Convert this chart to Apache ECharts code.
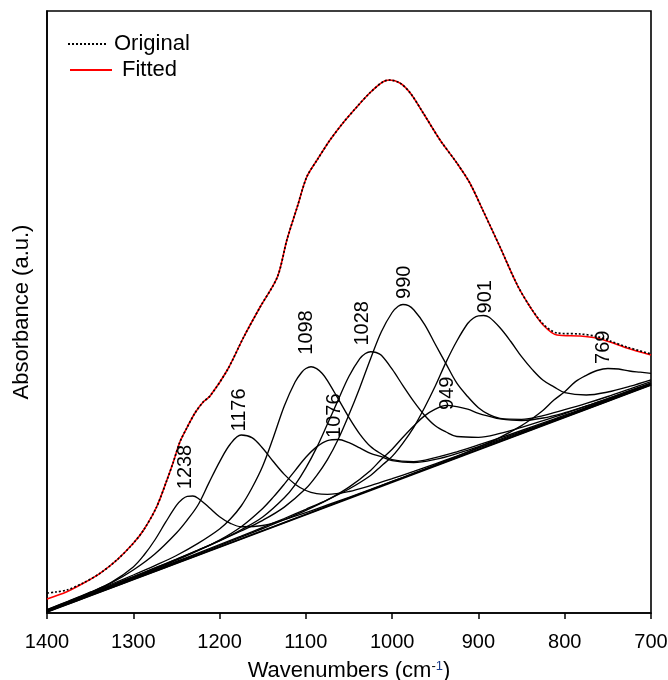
<!DOCTYPE html>
<html><head><meta charset="utf-8">
<script src="https://cdn.jsdelivr.net/npm/echarts@6/dist/echarts.min.js"></script>
<style>html,body{margin:0;padding:0;background:#fff}#c{width:668px;height:680px}</style>
</head><body><div id="c"></div>
<script>
// Measured spectrum (wavenumber cm-1, absorbance a.u.)
const fitted = [[1400,14],[1377,21.3],[1358,29.7],[1338.6,39.7],[1319,53],[1300,69.7],[1288,83],[1273,106],[1261,133],[1254,150],[1246,171],[1238,185],[1228.5,200],[1219,211],[1211,217],[1191,243],[1172,276],[1153,306],[1133,336],[1122,373],[1110,406],[1099,436],[1087,453],[1072,473],[1057,490],[1041,506],[1026,520],[1011,531],[1003,533],[991,530],[979,520],[964,500],[944.5,473],[925,450],[910,430],[895,403],[875,366],[855,328],[840,306],[825,288],[809,278],[782,277],[763,275],[747.5,271],[728,265],[700,258]];
const original = [[1400,20],[1390,21],[1377,23],[1358,30],[1338.6,39.7],[1319,53],[1300,69.7],[1288,83],[1273,106],[1261,133],[1254,150],[1246,171],[1238,185],[1228.5,200],[1219,211],[1211,217],[1191,243],[1172,276],[1153,306],[1133,336],[1122,373],[1110,406],[1099,436],[1087,453],[1072,473],[1057,490],[1041,506],[1026,520],[1011,531],[1003,533],[991,530],[979,520],[964,500],[944.5,473],[925,450],[910,430],[895,403],[875,366],[855,328],[840,306],[825,289],[809,280],[782,279],[763,276.5],[747.5,272],[728,266],[700,259]];
const baseline = [[1400,1],[700,228]];
const band1238 = [[1400,2.6],[1375,11.2],[1350,20.4],[1325,30.8],[1300,46.1],[1287.5,58],[1275,73],[1262.5,90.8],[1250,107.6],[1243,114],[1237.5,116.7],[1231,117],[1225,114.8],[1212.5,105.8],[1200,96.3],[1187.5,89.7],[1175,86.3],[1150,87.5],[1125,93.4],[1100,100.4],[1075,108],[1050,115.7],[1025,123.5],[1000,131.5],[975,139.4],[950,147.4],[925,155.5],[900,163.6],[875,171.6],[850,179.7],[825,187.8],[800,195.8],[775,203.9],[750,212],[725,220.1],[700,228.2]];
const band1176 = [[1400,3.3],[1375,11.9],[1350,20.8],[1325,30.3],[1300,43],[1275,59],[1250,80],[1237.5,93],[1225,108],[1212.5,129.9],[1200,151.2],[1187.5,169],[1175,178],[1162.5,175.4],[1150,164.8],[1137.5,151.2],[1125,138.6],[1112.5,128.8],[1100,122.5],[1087.5,119.3],[1075,118.6],[1050,121.5],[1025,127.4],[1000,134.3],[975,141.6],[950,149.2],[925,156.9],[900,164.8],[875,172.7],[850,180.5],[825,188.5],[800,196.4],[775,204.5],[750,212.5],[725,220.5],[700,228.5]];
const band1098 = [[1400,3.2],[1375,11.6],[1350,20.1],[1325,29],[1300,38],[1275,47.4],[1250,57.5],[1225,69.6],[1200,84],[1187.5,94],[1175,107],[1162.5,125],[1150,147],[1137.5,176],[1125,207],[1112.5,231],[1105,240.5],[1100,244.5],[1094,246.3],[1087.5,244.4],[1081,239.5],[1075,232.4],[1062.5,214.1],[1050,195.4],[1037.5,178.9],[1025,166.4],[1012.5,159],[1000,153.3],[975,151.4],[950,155.3],[925,161.2],[900,168.1],[875,175.1],[850,182.5],[825,190.1],[800,197.8],[775,205.6],[750,213.4],[725,221.3],[700,229.2]];
const band1076 = [[1400,2],[1375,10.3],[1350,18.6],[1325,27],[1300,35.4],[1275,44],[1250,52.9],[1225,62.4],[1200,72.9],[1175,86.3],[1150,104.6],[1137.5,116.1],[1125,128.9],[1112.5,142.4],[1100,155.7],[1087.5,166.1],[1075,172.4],[1062.5,173.5],[1050,170.3],[1037.5,165.1],[1025,159.6],[1012.5,156.3],[1000,152.4],[975,150.5],[950,153.6],[925,159.4],[900,166.4],[875,173.7],[850,181.4],[825,189.2],[800,196.9],[775,204.8],[750,212.8],[725,220.8],[700,228.8]];
const band1028 = [[1400,2.5],[1375,10.9],[1350,19.3],[1325,27.7],[1300,36.1],[1275,44.8],[1250,53.6],[1225,62.8],[1200,72.4],[1175,83.2],[1150,96],[1125,115.2],[1112.5,128.2],[1100,145.1],[1087.5,165.4],[1075,189],[1062.5,213.1],[1050,236.7],[1037.5,254.3],[1031,259.5],[1025,261.3],[1018.5,260.5],[1012.5,257.7],[1000,243.8],[987.5,227.4],[975,211.6],[962.5,197.8],[950,187.2],[937.5,181],[925,176.5],[900,175.7],[875,179.6],[850,185.7],[825,192.4],[800,199.4],[775,206.9],[750,214.4],[725,222.3],[700,229.9]];
const band990 = [[1400,2.7],[1375,11.2],[1350,19.5],[1325,27.9],[1300,36.4],[1275,45],[1250,53.8],[1225,62.8],[1200,72.2],[1175,82],[1150,92.7],[1125,105.9],[1100,124.4],[1087.5,137.4],[1075,153.4],[1062.5,173.8],[1050,198.4],[1037.5,225.3],[1025,254.3],[1012.5,281.3],[1000,300.5],[993,306.8],[987.5,308.5],[981,307.3],[975,303.2],[962.5,288.7],[950,268.7],[937.5,249.1],[925,229.8],[912.5,216.5],[900,205.3],[887.5,198.3],[875,194.6],[850,193.7],[825,197.4],[800,203.3],[775,209.6],[750,216.5],[725,223.9],[700,231.3]];
const band949 = [[1400,1.5],[1375,9.7],[1350,17.8],[1325,26],[1300,34.3],[1275,42.5],[1250,50.7],[1225,59.1],[1200,67.4],[1175,75.9],[1150,84.5],[1125,93.3],[1100,102.6],[1075,113.1],[1050,125.9],[1025,142.6],[1012.5,153.7],[1000,163.8],[987.5,175.7],[975,187],[962.5,197.1],[950,203.9],[937.5,207.7],[925,206.4],[912.5,203.8],[900,199.7],[887.5,196.7],[875,194.1],[850,192.5],[825,195],[800,200.3],[775,207],[750,214.4],[725,221.9],[700,229.6]];
const band901 = [[1400,1.9],[1375,10.1],[1350,18.3],[1325,26.6],[1300,34.9],[1275,43.1],[1250,51.5],[1225,59.9],[1200,68.3],[1175,76.8],[1150,85.6],[1125,94.5],[1100,103.7],[1075,113.2],[1050,124],[1025,137.5],[1012.5,147.1],[1000,156.6],[987.5,169.9],[975,185.7],[962.5,205.3],[950,227],[937.5,250.9],[925,272],[912.5,289.5],[906,294.8],[900,297.2],[894,297.5],[887.5,295.7],[875,285.2],[862.5,271.5],[850,256.3],[837.5,243.4],[825,232.7],[812.5,226.1],[800,220.4],[775,218],[750,221],[725,226.6],[700,233.2]];
const band769 = [[1400,1.1],[1375,9.2],[1350,17.3],[1325,25.4],[1300,33.6],[1275,41.7],[1250,49.8],[1225,58],[1200,66.1],[1175,74.2],[1150,82.4],[1125,90.5],[1100,98.7],[1075,106.8],[1050,115.1],[1025,123.2],[1000,131.5],[975,139.8],[950,148.2],[925,156.7],[900,165.7],[875,175.6],[850,187.4],[837.5,194.6],[825,202.7],[812.5,212.9],[800,221.3],[787.5,231.4],[775,237.7],[762.5,242.5],[750,244.5],[737.5,244],[725,242],[712.5,240.8],[700,239.6]];
// Peak annotations
const peakLabels = ['1238','1176','1098','1076','1028','990','949','901','769'];
const peakLabelX = [1239, 1177.5, 1099, 1067.4, 1034.6, 986.2, 936.4, 892.4, 755.2];
const peakLabelY = [146, 203, 280.5, 197.3, 289.7, 330.7, 219.7, 316.3, 265.7];

const FONT = "'Liberation Sans', Arial, sans-serif";
const chart = echarts.init(document.getElementById('c'), null, {renderer: 'canvas'});
const bands = [band1238, band1176, band1098, band1076, band1028, band990, band949, band901, band769];
const series = [];
series.push({name: 'Baseline', type: 'line', data: baseline, symbol: 'none', lineStyle: {color: '#000', width: 1.8}});
bands.forEach((d, i) => series.push({
  name: 'Band ' + peakLabels[i], type: 'line', data: d, smooth: 0.35, symbol: 'none',
  lineStyle: {color: '#000', width: 1.35}
}));
series.push({name: 'Fitted', type: 'line', data: fitted, smooth: 0.3, symbol: 'none',
  lineStyle: {color: '#ff0000', width: 1.6}, itemStyle: {color: '#ff0000'}});
series.push({name: 'Original', type: 'line', data: original, smooth: 0.3, symbol: 'none',
  lineStyle: {color: '#000', width: 1.7, type: [2, 2]}, itemStyle: {color: '#000'}});
series.push({name: 'labels', type: 'scatter', symbolSize: 1, itemStyle: {color: 'rgba(0,0,0,0)'},
  data: peakLabels.map((t, i) => ({value: [peakLabelX[i], peakLabelY[i]], name: t})),
  label: {show: true, formatter: p => p.name, rotate: 90, position: 'inside', align: 'center',
    verticalAlign: 'middle', fontSize: 20, fontFamily: FONT, color: '#000', opacity: 1}, z: 10});

const legendBase = {itemHeight: 14, selectedMode: false, padding: 0,
  itemStyle: {opacity: 0, borderWidth: 0}};
chart.setOption({
  animation: false,
  backgroundColor: '#fff',
  grid: {left: 47, right: 17, top: 11, bottom: 67, show: true, borderColor: '#000', borderWidth: 1.6,
    containLabel: false, outerBoundsMode: 'none'},
  legend: [
    Object.assign({}, legendBase, {data: ['Original'], left: 67, top: 33, itemWidth: 38,
      textStyle: {fontSize: 22, fontFamily: FONT, color: '#000', padding: [0, 0, 0, 3]}}),
    Object.assign({}, legendBase, {data: ['Fitted'], left: 69, top: 59, itemWidth: 42,
      textStyle: {fontSize: 22, fontFamily: FONT, color: '#000', padding: [0, 0, 0, 5]}})
  ],
  xAxis: {
    type: 'value', min: 700, max: 1400, interval: 100, inverse: true,
    name: 'Wavenumbers (cm{sup|-}{sup1|1})', nameLocation: 'middle', nameGap: 47,
    nameTextStyle: {fontSize: 22, fontFamily: FONT, color: '#000',
      rich: {sup: {fontSize: 13, fontFamily: FONT, color: '#000', verticalAlign: 'top'},
             sup1: {fontSize: 13, fontFamily: FONT, color: '#1a3c8c', verticalAlign: 'top'}}},
    axisLine: {show: true, lineStyle: {color: '#000', width: 1.6}},
    axisTick: {show: true, inside: false, length: 6, lineStyle: {color: '#000', width: 1.5}},
    axisLabel: {fontSize: 20, fontFamily: FONT, color: '#000', margin: 19, formatter: v => String(v)},
    splitLine: {show: false}
  },
  yAxis: {
    type: 'value', min: 0, max: 602,
    name: 'Absorbance (a.u.)', nameLocation: 'middle', nameGap: 14, nameRotate: 90,
    nameTextStyle: {fontSize: 22, fontFamily: FONT, color: '#000'},
    axisLine: {show: true, lineStyle: {color: '#000', width: 1.6}},
    axisTick: {show: false}, axisLabel: {show: false}, splitLine: {show: false}
  },
  series: series
});
</script></body></html>
